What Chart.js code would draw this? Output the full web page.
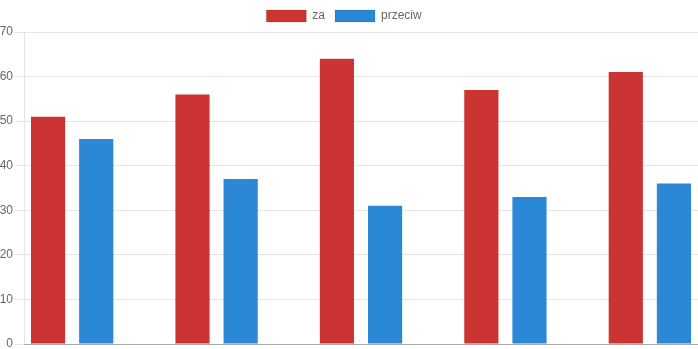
<!DOCTYPE html>
<html>
<head>
<meta charset="utf-8">
<script src="https://cdn.jsdelivr.net/npm/chart.js@4/dist/chart.umd.min.js"></script>
<style>
    html, body { margin: 0; padding: 0; background: #fff; overflow: hidden; }
    #wrap { width: 698px; height: 349px; position: relative; }
</style>
</head>
<body>
<div id="wrap"><canvas id="chart"></canvas></div>
<script>
// data
const categories = ['1', '2', '3', '4', '5'];
const zaValues = [51, 56, 64, 57, 61];
const przeciwValues = [46, 37, 31, 33, 36];
const yTicks = [0, 10, 20, 30, 40, 50, 60, 70];

Chart.defaults.font.family = '"Liberation Sans", Arial, Helvetica, sans-serif';
Chart.defaults.font.size = 12;
Chart.defaults.color = '#666';

const toPoints = arr => arr.map((v, i) => ({ x: i, y: v }));

new Chart(document.getElementById('chart'), {
    type: 'bar',
    data: {
        datasets: [
            {
                label: 'za',
                data: toPoints(zaValues),
                backgroundColor: '#cc3333',
                borderWidth: 0,
                categoryPercentage: 2 / 3,
                barPercentage: 0.71
            },
            {
                label: 'przeciw',
                data: toPoints(przeciwValues),
                backgroundColor: '#2b88d6',
                borderWidth: 0,
                categoryPercentage: 2 / 3,
                barPercentage: 0.71
            }
        ]
    },
    options: {
        responsive: true,
        maintainAspectRatio: false,
        animation: false,
        // legend sits a few px left of centre in the reference
        layout: { padding: { left: -10 } },
        plugins: {
            tooltip: { enabled: false },
            legend: {
                position: 'top',
                labels: {
                    boxWidth: 40,
                    boxHeight: 12,
                    padding: 10,
                    color: '#666',
                    generateLabels: chart => Chart.defaults.plugins.legend.labels.generateLabels(chart).map(l => {
                        l.lineWidth = 1;
                        l.strokeStyle = 'rgba(0,0,0,0.1)';
                        return l;
                    })
                }
            }
        },
        scales: {
            x: {
                type: 'linear',
                offset: false,
                min: -1 / 3,
                max: categories.length - 1 + 1 / 3,
                afterBuildTicks: axis => { axis.ticks = categories.map((c, i) => ({ value: i })); },
                ticks: { display: false },
                grid: { display: false, offset: false, drawTicks: true, tickLength: 3 },
                border: { display: true, color: 'rgba(0,0,0,0.25)' }
            },
            y: {
                min: yTicks[0],
                max: yTicks[yTicks.length - 1],
                afterBuildTicks: axis => { axis.ticks = yTicks.map(v => ({ value: v })); },
                afterFit: axis => { axis.width = 34; },
                ticks: { color: '#666', padding: 2, font: { lineHeight: 0.5 } },
                grid: { color: 'rgba(0,0,0,0.1)', tickLength: 9 },
                border: { color: 'rgba(0,0,0,0.1)' }
            }
        }
    }
});
</script>
</body>
</html>
